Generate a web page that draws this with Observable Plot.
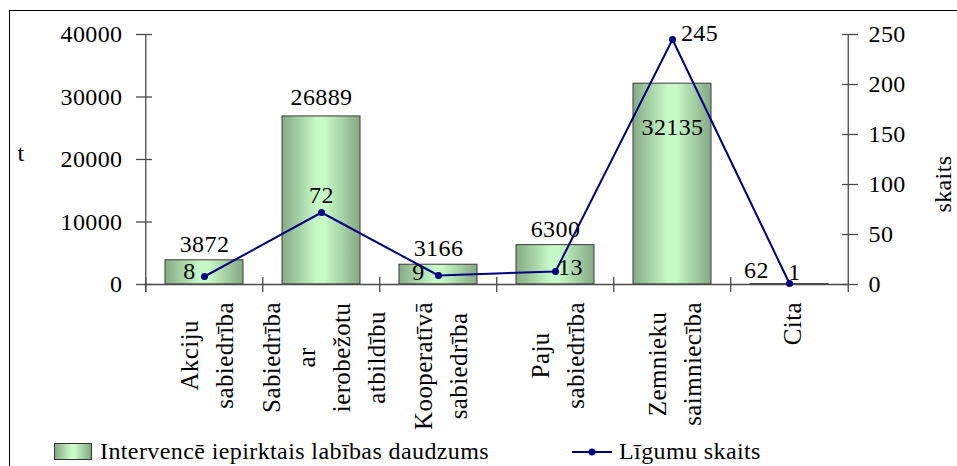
<!DOCTYPE html>
<html><head><meta charset="utf-8">
<script src="https://cdn.jsdelivr.net/npm/d3@7"></script>
<script src="https://cdn.jsdelivr.net/npm/@observablehq/plot@0.6"></script>
<style>
html,body{margin:0;padding:0;background:#fff;font-family:'Liberation Serif',serif;}
#wrap{position:relative;width:957px;height:466px;overflow:hidden;font-family:'Liberation Serif',serif;}
#frame{position:absolute;left:9px;top:10px;width:960px;height:470px;border-left:1.5px solid #000;border-top:1.5px solid #000;box-sizing:border-box;}
#chart{position:absolute;left:0;top:0;}
#chart svg text{letter-spacing:0.4px;}
.leg{position:absolute;font-size:24px;line-height:28px;letter-spacing:0.4px;white-space:nowrap;color:#000;font-family:'Liberation Serif',serif;}
</style></head>
<body><div id="wrap"><div id="frame"></div><div id="chart"></div><div id="legend"></div></div>
<script>
const categories = ["Akciju sabiedrība", "Sabiedrība ar ierobežotu atbildību", "Kooperatīvā sabiedrība", "Paju sabiedrība", "Zemnieku saimniecība", "Cita"];
const tickLabels = ["Akciju\nsabiedrība", "Sabiedrība\nar\nierobežotu\natbildību", "Kooperatīvā\nsabiedrība", "Paju\nsabiedrība", "Zemnieku\nsaimniecība", "Cita"];
const tonnes = [3872, 26889, 3166, 6300, 32135, 62];
const contracts = [8, 72, 9, 13, 245, 1];
const leftTicks = [0, 10000, 20000, 30000, 40000];
const rightTicks = [0, 50, 100, 150, 200, 250];
const seriesNames = ["Intervencē iepirktais labības daudzums", "Līgumu skaits"];
const axisTitles = ["t", "skaits"];

const leftMax = leftTicks[leftTicks.length - 1];
const rightMax = rightTicks[rightTicks.length - 1];
const ratio = leftMax / rightMax;
const rows = categories.map((c, i) => ({cat: c, t: tonnes[i], n: contracts[i], i}));
const pick = idx => rows.filter(d => idx.includes(d.i));

const W = 957, H = 440, mL = 144, mR = 108, mT = 34, mB = 156;
const step = (W - mL - mR) / categories.length;
const navy = "#000080", axisGrey = "#4a4a4a";
const FF = "Liberation Serif";
const T = {fontFamily: FF, fontSize: 24};

const chart = Plot.plot({
  width: W, height: H, marginLeft: mL, marginRight: mR, marginTop: mT, marginBottom: mB,
  style: {fontFamily: FF, fontSize: "24px", color: "#000", background: "transparent", overflow: "visible"},
  x: {type: "band", domain: categories, paddingInner: 0.33, paddingOuter: 0.165},
  y: {domain: [0, leftMax]},
  marks: [
    Plot.barY(rows, {x: "cat", y: "t", fill: "url(#barGrad)", stroke: "#3a3a3a", strokeWidth: 1}),
    Plot.ruleY([0], {stroke: axisGrey, strokeWidth: 1.3}),
    Plot.ruleX(pick([0]), {x: "cat", dx: -step / 2, insetBottom: -8, stroke: axisGrey, strokeWidth: 1.3}),
    Plot.ruleX(pick([5]), {x: "cat", dx: step / 2, insetBottom: -8, stroke: axisGrey, strokeWidth: 1.3}),
    Plot.axisX({tickSize: 15, dy: -7, dx: -step / 2, tickFormat: () => "", stroke: axisGrey, strokeWidth: 1.3, label: null}),
    Plot.axisX({tickSize: 0, tickPadding: 0, tickRotate: -90, textAnchor: "middle", lineAnchor: "middle", lineHeight: 1.4, fontFamily: FF, fontSize: 25, tickFormat: d => tickLabels[categories.indexOf(d)], label: null}),
    Plot.axisY({ticks: leftTicks, tickSize: 16, dx: 8, tickFormat: () => "", stroke: axisGrey, strokeWidth: 1.3, label: null}),
    Plot.axisY({ticks: leftTicks, tickSize: 0, tickPadding: 22, tickFormat: d => String(d), label: null, ...T}),
    Plot.axisY({anchor: "right", ticks: rightTicks.map(v => v * ratio), tickSize: 16, dx: -8, tickFormat: () => "", stroke: axisGrey, strokeWidth: 1.3, label: null}),
    Plot.axisY({anchor: "right", ticks: rightTicks.map(v => v * ratio), tickSize: 0, tickPadding: 19, tickFormat: d => String(Math.round(d / ratio)), label: null, ...T}),
    Plot.line(rows, {x: "cat", y: d => d.n * ratio, stroke: navy, strokeWidth: 2}),
    Plot.dot(rows, {x: "cat", y: d => d.n * ratio, r: 3.5, fill: navy, stroke: null}),
    // bar value labels
    Plot.text(pick([0, 2, 3]), {x: "cat", y: "t", text: d => String(d.t), dy: -16, ...T}),
    Plot.text(pick([1]), {x: "cat", y: "t", text: d => String(d.t), dy: -19, ...T}),
    Plot.text(pick([4]), {x: "cat", y: "t", text: d => String(d.t), dy: 44, ...T}),
    Plot.text(pick([5]), {x: "cat", y: "t", text: d => String(d.t), dx: -33, dy: -14, ...T}),
    // line value labels
    Plot.text(pick([0]), {x: "cat", y: d => d.n * ratio, text: d => String(d.n), dx: -15, dy: -5, ...T}),
    Plot.text(pick([2]), {x: "cat", y: d => d.n * ratio, text: d => String(d.n), dx: -20, dy: -3, ...T}),
    Plot.text(pick([1]), {x: "cat", y: d => d.n * ratio, text: d => String(d.n), dy: -17, ...T}),
    Plot.text(pick([3]), {x: "cat", y: d => d.n * ratio, text: d => String(d.n), dx: 15, dy: -4, ...T}),
    Plot.text(pick([4]), {x: "cat", y: d => d.n * ratio, text: d => String(d.n), dx: 27, dy: -6, ...T}),
    Plot.text(pick([5]), {x: "cat", y: d => d.n * ratio, text: d => String(d.n), dx: 5, dy: -11, ...T}),
    // axis titles
    Plot.text([axisTitles[0]], {frameAnchor: "left", text: d => d, dx: -127, dy: -6, ...T}),
    Plot.text([axisTitles[1]], {frameAnchor: "right", text: d => d, rotate: -90, dx: 94, dy: -4, ...T})
  ]
});

document.getElementById("chart").append(chart);

// bar gradient
const defs = document.createElementNS("http://www.w3.org/2000/svg", "defs");
defs.innerHTML = '<linearGradient id="barGrad" x1="0" x2="1" y1="0" y2="0">' +
  '<stop offset="0" stop-color="#86ab86"/><stop offset="0.45" stop-color="#c8fac8"/>' +
  '<stop offset="0.55" stop-color="#c8fac8"/><stop offset="1" stop-color="#84a884"/></linearGradient>';
chart.prepend(defs);

// align the category label blocks so their top edge sits just below the axis ticks
const labelTop = 302;
const svgTop = chart.getBoundingClientRect().top;
const groups = chart.querySelectorAll('g[aria-label="x-axis tick label"]');
const lg = groups[groups.length - 1];
if (lg) lg.querySelectorAll("text").forEach(t => {
  const r = t.getBoundingClientRect();
  const delta = labelTop - (r.top - svgTop);
  t.setAttribute("transform", `translate(0,${delta}) ` + (t.getAttribute("transform") || ""));
});

// legend
const legend = document.getElementById("legend");
legend.innerHTML =
  '<div style="position:absolute;left:54px;top:443px;width:38px;height:17px;border:1px solid #333;box-sizing:border-box;background:linear-gradient(to right,#86ab86,#c8fac8 45%,#c8fac8 55%,#84a884)"></div>' +
  `<div class="leg" style="left:100px;top:437px">${seriesNames[0]}</div>` +
  `<svg style="position:absolute;left:570px;top:444px" width="44" height="16"><line x1="2" x2="42" y1="8" y2="8" stroke="${navy}" stroke-width="2"/><circle cx="22" cy="8" r="3.5" fill="${navy}"/></svg>` +
  `<div class="leg" style="left:619px;top:437px">${seriesNames[1]}</div>`;
</script></body></html>
